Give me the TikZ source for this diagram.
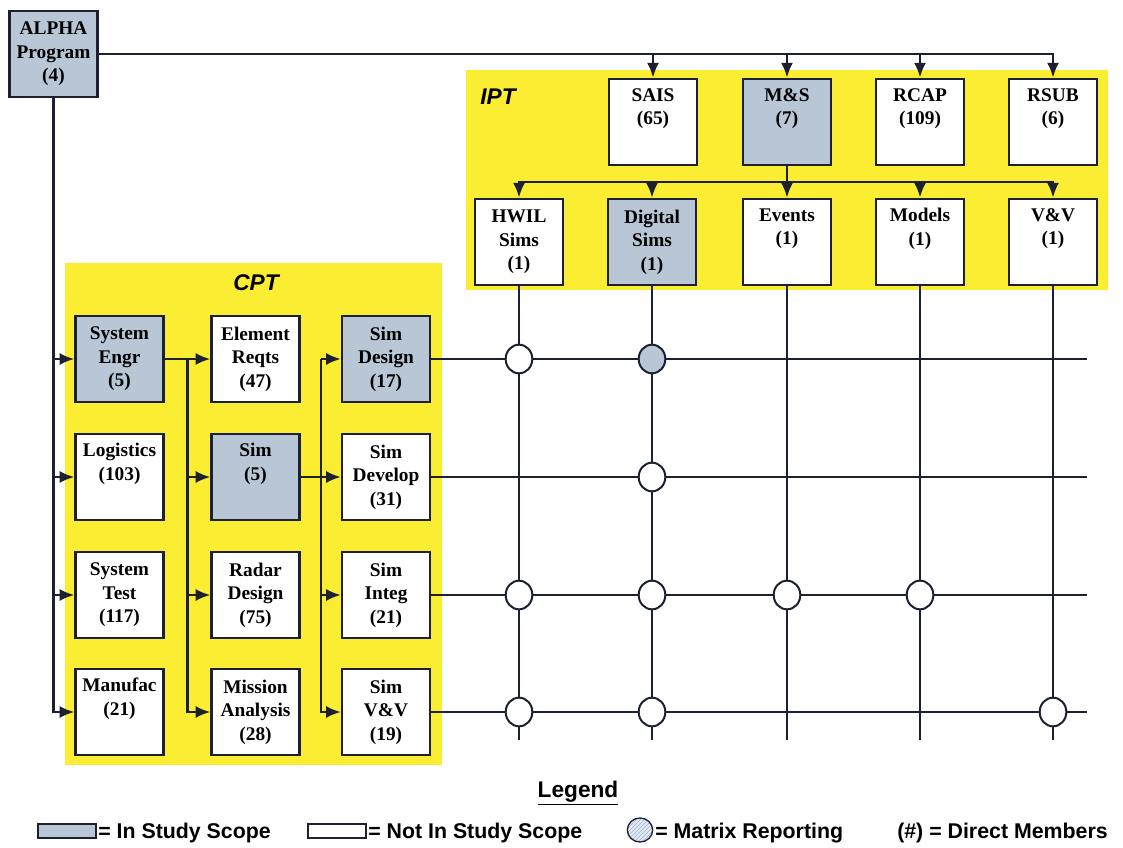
\documentclass[tikz,border=0pt]{standalone}
\usepackage{fontspec}
\setmainfont{Liberation Serif}
\newfontfamily\legendfont{Liberation Sans}
\usetikzlibrary{arrows.meta,shapes.geometric,patterns,calc}

\definecolor{scopeblue}{RGB}{184,198,214}
\definecolor{teamyellow}{RGB}{250,237,50}
\definecolor{linedark}{RGB}{28,32,48}
\definecolor{hatchblue}{RGB}{150,178,212}

\begin{document}
\begin{tikzpicture}[
    x=0.75pt, y=-0.75pt,
    box/.style={draw=linedark, line width=1.7pt, fill=white, align=center, inner sep=0pt,
      minimum width=66pt, minimum height=65pt, font=\fontsize{14.5}{17.6}\selectfont\bfseries},
    inscope/.style={box, fill=scopeblue},
    arrow/.style={-{Latex[length=11pt,width=9pt]}, line width=1.7pt, draw=linedark},
    wire/.style={line width=1.7pt, draw=linedark},
    mrep/.style={ellipse, draw=linedark, line width=1.5pt, fill=white,
      minimum width=20pt, minimum height=21.5pt, inner sep=0pt},
    teamlabel/.style={font=\legendfont\bfseries\itshape\fontsize{17}{19}\selectfont},
    legendtext/.style={font=\legendfont\bfseries\fontsize{16}{18}\selectfont, anchor=west, inner sep=0pt}
  ]
  \useasboundingbox (0,0) rectangle (1123,848);

  % team areas
  \fill[teamyellow] (466,70) rectangle (1108,290);
  \fill[teamyellow] (65,263) rectangle (442,765);
  \node[teamlabel] (ipt) at (498,97) {IPT};
  \node[teamlabel] (cpt) at (256,283) {CPT};

  % program
  \node[inscope] (alpha) at (53.5,54) {ALPHA\\Program\\(4)};

  % IPT
  \node[box] (sais) at (653,122) {SAIS\\(65)\\\strut};
  \node[inscope] (ms) at (787,122) {M\&S\\(7)\\\strut};
  \node[box] (rcap) at (920,122) {RCAP\\(109)\\\strut};
  \node[box] (rsub) at (1053,122) {RSUB\\(6)\\\strut};
  \node[box] (hwil) at (519,242) {HWIL\\Sims\\(1)};
  \node[inscope] (dsims) at (652,242) {Digital\\Sims\\(1)};
  \node[box] (events) at (787,242) {Events\\(1)\\\strut};
  \node[box] (models) at (920,242) {Models\\(1)\\\strut};
  \node[box] (vv) at (1053,242) {V\&V\\(1)\\\strut};

  % CPT
  \node[inscope] (sysengr) at (119.5,359) {System\\Engr\\(5)};
  \node[box] (logistics) at (119.5,477) {Logistics\\(103)\\\strut};
  \node[box] (systest) at (119.5,595) {System\\Test\\(117)};
  \node[box] (manufac) at (119.5,712) {Manufac\\(21)\\\strut};
  \node[box] (elemreq) at (255.5,359) {Element\\Reqts\\(47)};
  \node[inscope] (sim) at (255.5,477) {Sim\\(5)\\\strut};
  \node[box] (radar) at (255.5,595) {Radar\\Design\\(75)};
  \node[box] (mission) at (255.5,712) {Mission\\Analysis\\(28)};
  \node[inscope] (simdesign) at (386,359) {Sim\\Design\\(17)};
  \node[box] (simdevelop) at (386,477) {Sim\\Develop\\(31)};
  \node[box] (siminteg) at (386,595) {Sim\\Integ\\(21)};
  \node[box] (simvv) at (386,712) {Sim\\V\&V\\(19)};

  % program to IPT
  \draw[arrow] (alpha.east) -| (rsub.north);
  \foreach \t in {sais,ms,rcap}
    \draw[arrow] (alpha.east -| \t.north) -- (\t.north);
  \coordinate (bus) at ($(ms.south)!0.5!(events.north)$);
  \draw[arrow] (ms.south) -- (events.north);
  \foreach \t in {hwil,dsims,models,vv}
    \draw[arrow] (bus) -| (\t.north);

  % program to CPT
  \draw[arrow] (alpha.south) |- (manufac.west);
  \foreach \t in {sysengr,logistics,systest}
    \draw[arrow] (alpha.south |- \t.west) -- (\t.west);
  \coordinate (split1) at ($(sysengr.east)!0.5!(elemreq.west)$);
  \draw[arrow] (sysengr.east) -- (elemreq.west);
  \draw[arrow] (split1) |- (mission.west);
  \foreach \t in {sim,radar}
    \draw[arrow] (split1 |- \t.west) -- (\t.west);
  \coordinate (split2) at ($(sim.east)!0.5!(simdevelop.west)$);
  \draw[arrow] (sim.east) -- (simdevelop.west);
  \draw[arrow] (split2 |- simdesign.west) |- (simvv.west);
  \foreach \t in {simdesign,siminteg}
    \draw[arrow] (split2 |- \t.west) -- (\t.west);

  % matrix grid
  \coordinate (edge) at (1087,0);
  \coordinate (floor) at (0,740);
  \foreach \t in {simdesign,simdevelop,siminteg,simvv}
    \draw[wire] (\t.east) -- (\t.east -| edge);
  \foreach \t in {hwil,dsims,events,models,vv}
    \draw[wire] (\t.south) -- (\t.south |- floor);

  % matrix reporting
  \node[mrep] (m11) at (hwil |- simdesign) {};
  \node[mrep, fill=scopeblue] (m12) at (dsims |- simdesign) {};
  \node[mrep] (m22) at (dsims |- simdevelop) {};
  \node[mrep] (m31) at (hwil |- siminteg) {};
  \node[mrep] (m32) at (dsims |- siminteg) {};
  \node[mrep] (m33) at (events |- siminteg) {};
  \node[mrep] (m34) at (models |- siminteg) {};
  \node[mrep] (m41) at (hwil |- simvv) {};
  \node[mrep] (m42) at (dsims |- simvv) {};
  \node[mrep] (m45) at (vv |- simvv) {};

  % legend
  \node[font=\legendfont\bfseries\fontsize{17}{19}\selectfont] (legend) at (578,793) {\underline{Legend}};
  \node[draw=linedark, line width=1.3pt, fill=scopeblue, minimum width=43pt, minimum height=10pt, inner sep=0pt] (keyin) at (67,831) {};
  \node[legendtext] (txtin) at (98,833) {= In Study Scope};
  \node[draw=linedark, line width=1.3pt, fill=white, minimum width=43pt, minimum height=10pt, inner sep=0pt] (keyout) at (337,831) {};
  \node[legendtext] (txtout) at (368,833) {= Not In Study Scope};
  \node[ellipse, draw=linedark, line width=1pt, preaction={fill=scopeblue!35}, pattern=north east lines, pattern color=hatchblue,
    minimum width=19pt, minimum height=18pt, inner sep=0pt] (keymrep) at (640,830) {};
  \node[legendtext] (txtmrep) at (655,833) {= Matrix Reporting};
  \node[legendtext] (txtmem) at (897,833) {(\#) = Direct Members};
\end{tikzpicture}
\end{document}
